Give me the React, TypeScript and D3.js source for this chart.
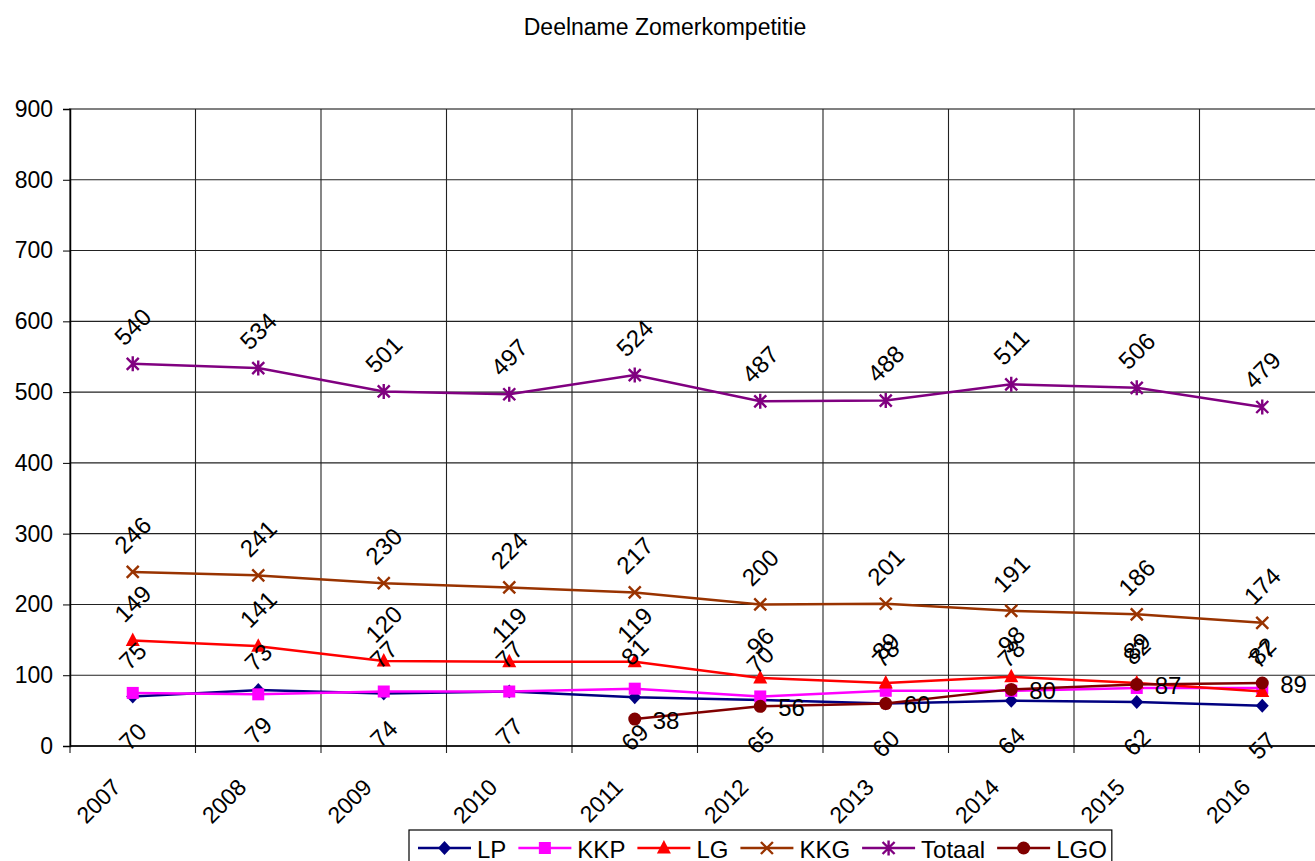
import React, { useEffect, useRef } from 'react';
import * as d3 from 'd3';

const years = ['2007', '2008', '2009', '2010', '2011', '2012', '2013', '2014', '2015', '2016'];
const yTicks = [0, 100, 200, 300, 400, 500, 600, 700, 800, 900];

const lp = [70, 79, 74, 77, 69, 65, 60, 64, 62, 57];
const kkp = [75, 73, 77, 77, 81, 70, 78, 78, 82, 82];
const lg = [149, 141, 120, 119, 119, 96, 89, 98, 89, 77];
const kkg = [246, 241, 230, 224, 217, 200, 201, 191, 186, 174];
const totaal = [540, 534, 501, 497, 524, 487, 488, 511, 506, 479];
const lgo = [null, null, null, null, 38, 56, 60, 80, 87, 89];

type Marker = 'diamond' | 'square' | 'triangle' | 'x' | 'star' | 'circle';
type Series = { name: string; values: (number | null)[]; color: string; marker: Marker; label: 'above' | 'below' | 'right' };

const series: Series[] = [
    { name: 'LP', values: lp, color: '#000080', marker: 'diamond', label: 'below' },
    { name: 'KKP', values: kkp, color: '#ff00ff', marker: 'square', label: 'above' },
    { name: 'LG', values: lg, color: '#ff0000', marker: 'triangle', label: 'above' },
    { name: 'KKG', values: kkg, color: '#993300', marker: 'x', label: 'above' },
    { name: 'Totaal', values: totaal, color: '#800080', marker: 'star', label: 'above' },
    { name: 'LGO', values: lgo, color: '#800000', marker: 'circle', label: 'right' },
];

const W = 1315;
const H = 861;
const FONT = 'Arial, "Liberation Sans", sans-serif';

function drawMarker(g: d3.Selection<SVGGElement, unknown, null, undefined>, m: Marker, color: string) {
    if (m === 'diamond') g.append('path').attr('d', 'M0,-7L6.5,0L0,7L-6.5,0Z').attr('fill', color);
    if (m === 'square') g.append('rect').attr('x', -6).attr('y', -6).attr('width', 12).attr('height', 12).attr('fill', color);
    if (m === 'triangle') g.append('path').attr('d', 'M0,-8L7,5.5L-7,5.5Z').attr('fill', color);
    if (m === 'circle') g.append('circle').attr('r', 6.5).attr('fill', color);
    if (m === 'x' || m === 'star') {
        g.append('path').attr('d', 'M-6,-6L6,6M-6,6L6,-6' + (m === 'star' ? 'M0,-7.5L0,7.5' : ''))
            .attr('stroke', color).attr('stroke-width', 2.4).attr('fill', 'none');
    }
}

const App: React.FC = () => {
    const svgRef = useRef<SVGSVGElement>(null);

    useEffect(() => {
        if (!svgRef.current) return;
        const svg = d3.select(svgRef.current);
        svg.selectAll('*').remove();

        const plot = { left: 70, top: 109, bottom: 746, right: 1325 };

        const x = d3.scaleBand<string>().domain(years).range([plot.left, plot.right]);
        const y = d3.scaleLinear().domain([0, 900]).range([plot.bottom, plot.top]);
        const cx = (i: number) => (x(years[i]) as number) + x.bandwidth() / 2;

        // title
        svg.append('text')
            .attr('x', 665).attr('y', 27)
            .attr('text-anchor', 'middle').attr('dominant-baseline', 'central')
            .attr('font-size', 23).attr('font-family', FONT)
            .text('Deelname Zomerkompetitie');

        // plot border
        svg.append('rect')
            .attr('x', plot.left).attr('y', plot.top)
            .attr('width', plot.right - plot.left).attr('height', plot.bottom - plot.top)
            .attr('fill', 'white').attr('stroke', '#808080').attr('stroke-width', 2);

        // horizontal gridlines
        svg.append('g').selectAll('line')
            .data(yTicks.filter(t => t > 0 && t < 900))
            .join('line')
            .attr('x1', plot.left).attr('x2', plot.right)
            .attr('y1', d => y(d)).attr('y2', d => y(d))
            .attr('stroke', '#222').attr('stroke-width', 1.1);

        // vertical gridlines
        svg.append('g').selectAll('line')
            .data(years.slice(1))
            .join('line')
            .attr('x1', d => x(d) as number).attr('x2', d => x(d) as number)
            .attr('y1', plot.top).attr('y2', plot.bottom + 7)
            .attr('stroke', '#222').attr('stroke-width', 1.1);

        // y axis
        const yAxis = d3.axisLeft(y).tickValues(yTicks).tickSize(7).tickPadding(10);
        const ya = svg.append('g').attr('transform', `translate(${plot.left},0)`).call(yAxis);
        ya.select('.domain').attr('stroke', '#000').attr('stroke-width', 1.5);
        ya.selectAll('text').attr('font-size', 23).attr('font-family', FONT).attr('fill', '#000');

        // x axis
        svg.append('line')
            .attr('x1', plot.left).attr('x2', plot.right)
            .attr('y1', plot.bottom).attr('y2', plot.bottom)
            .attr('stroke', '#000').attr('stroke-width', 1.5);
        svg.append('line')
            .attr('x1', plot.left).attr('x2', plot.left)
            .attr('y1', plot.bottom).attr('y2', plot.bottom + 7)
            .attr('stroke', '#000');
        svg.append('g').selectAll('text')
            .data(years)
            .join('text')
            .attr('transform', (d, i) => `translate(${cx(i) - 16},${plot.bottom + 37}) rotate(-45)`)
            .attr('text-anchor', 'end').attr('dominant-baseline', 'central')
            .attr('font-size', 23).attr('font-family', FONT)
            .text(d => d);

        // series lines
        series.forEach(s => {
            const pts = s.values.map((v, i) => ({ v, i })).filter(p => p.v !== null) as { v: number; i: number }[];
            const line = d3.line<{ v: number; i: number }>().x(p => cx(p.i)).y(p => y(p.v));
            svg.append('path').datum(pts)
                .attr('d', line)
                .attr('fill', 'none').attr('stroke', s.color).attr('stroke-width', 2.5);
            pts.forEach(p => {
                const g = svg.append('g').attr('transform', `translate(${cx(p.i)},${y(p.v)})`);
                drawMarker(g, s.marker, s.color);
            });
        });

        // data labels
        series.forEach(s => {
            s.values.forEach((v, i) => {
                if (v === null) return;
                const px = cx(i);
                const py = y(v);
                if (s.label === 'right') {
                    svg.append('text')
                        .attr('x', px + 18).attr('y', py + 1)
                        .attr('dominant-baseline', 'central')
                        .attr('font-size', 24).attr('font-family', FONT)
                        .text(v);
                } else {
                    const dy = s.label === 'above' ? -37 : 40;
                    svg.append('text')
                        .attr('transform', `translate(${px},${py + dy}) rotate(-45)`)
                        .attr('text-anchor', 'middle').attr('dominant-baseline', 'central')
                        .attr('font-size', 24).attr('font-family', FONT)
                        .text(v);
                }
            });
        });

        // legend
        const legend = svg.append('g');
        const box = legend.append('rect')
            .attr('y', 830).attr('height', 60)
            .attr('fill', 'white').attr('stroke', '#000').attr('stroke-width', 1.2);
        let lx = 418;
        const ly = 848;
        series.forEach(s => {
            legend.append('line')
                .attr('x1', lx).attr('x2', lx + 53).attr('y1', ly).attr('y2', ly)
                .attr('stroke', s.color).attr('stroke-width', 2.5);
            const g = legend.append('g').attr('transform', `translate(${lx + 26.5},${ly})`);
            drawMarker(g, s.marker, s.color);
            const t = legend.append('text')
                .attr('x', lx + 59).attr('y', ly + 1)
                .attr('dominant-baseline', 'central')
                .attr('font-size', 24).attr('font-family', FONT)
                .text(s.name);
            const w = (t.node() as SVGTextElement).getComputedTextLength();
            lx = lx + 59 + w + 12;
        });
        box.attr('x', 409).attr('width', lx - 409 - 7);
    }, []);

    return (
        <svg
            ref={svgRef}
            width={W}
            height={H}
            style={{ position: 'absolute', left: 0, top: 0, background: 'white' }}
        />
    );
};

export default App;
